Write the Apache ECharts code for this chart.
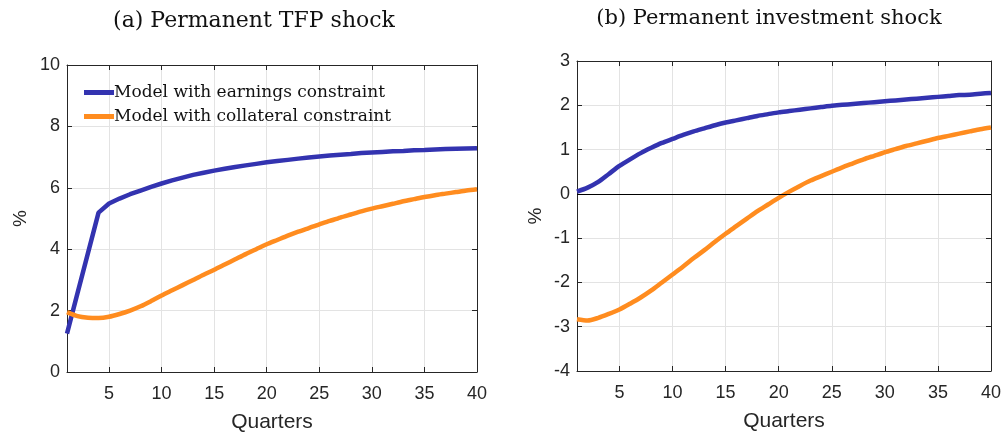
<!DOCTYPE html>
<html>
<head>
<meta charset="utf-8">
<script src="https://cdn.jsdelivr.net/npm/echarts@6/dist/echarts.min.js"></script>
<style>
  html, body { margin: 0; padding: 0; background: #fff; }
  #chart { width: 1006px; height: 434px; }
</style>
</head>
<body>
<div id="chart"></div>
<script>
var quarters = [];
for (var q = 1; q <= 40; q++) quarters.push(q);

// (a) permanent TFP shock
var tfpEarnings = [1.25, 2.57, 3.88, 5.19, 5.49, 5.65, 5.79, 5.91, 6.03, 6.14,
  6.24, 6.33, 6.42, 6.49, 6.56, 6.62, 6.68, 6.73, 6.78, 6.83,
  6.87, 6.91, 6.95, 6.99, 7.02, 7.05, 7.08, 7.10, 7.13, 7.15,
  7.17, 7.19, 7.20, 7.22, 7.23, 7.25, 7.26, 7.27, 7.28, 7.29];
var tfpCollateral = [1.95, 1.82, 1.77, 1.76, 1.80, 1.89, 2.00, 2.14, 2.31, 2.49,
  2.66, 2.83, 3.00, 3.17, 3.33, 3.50, 3.67, 3.84, 4.00, 4.16,
  4.30, 4.44, 4.57, 4.69, 4.81, 4.92, 5.03, 5.13, 5.23, 5.32,
  5.40, 5.48, 5.56, 5.63, 5.70, 5.76, 5.81, 5.86, 5.91, 5.95];

// (b) permanent investment shock
var invEarnings = [0.05, 0.14, 0.27, 0.45, 0.63, 0.78, 0.92, 1.04, 1.15, 1.24,
  1.33, 1.41, 1.48, 1.55, 1.61, 1.66, 1.71, 1.76, 1.80, 1.84,
  1.87, 1.90, 1.93, 1.96, 1.99, 2.01, 2.03, 2.05, 2.07, 2.09,
  2.11, 2.13, 2.15, 2.17, 2.19, 2.21, 2.23, 2.24, 2.26, 2.28];
var invCollateral = [-2.83, -2.86, -2.80, -2.71, -2.61, -2.48, -2.34, -2.18, -2.00, -1.82,
  -1.64, -1.45, -1.27, -1.08, -0.90, -0.73, -0.56, -0.39, -0.24, -0.09,
  0.05, 0.18, 0.30, 0.40, 0.50, 0.60, 0.69, 0.78, 0.86, 0.94,
  1.01, 1.08, 1.14, 1.20, 1.26, 1.31, 1.36, 1.41, 1.46, 1.50];

var seriesNames = ['Model with earnings constraint', 'Model with collateral constraint'];
var titles = ['(a) Permanent TFP shock', '(b) Permanent investment shock'];
var xTicks = [5, 10, 15, 20, 25, 30, 35, 40];

var BLUE = '#3333b0';
var ORANGE = '#ff8c1f';
var AXIS = '#262626';
var GRID = '#e3e3e3';

function pairs(vals) {
  return vals.map(function (v, i) { return [quarters[i], v]; });
}

// fixed plot boxes, no auto shrinking for labels
var grids = [
  { left: 67, top: 65, width: 410, height: 307, outerBoundsMode: 'none', containLabel: false },
  { left: 577, top: 61, width: 414, height: 310, outerBoundsMode: 'none', containLabel: false }
];

function xAxisFor(idx, pos) {
  var main = pos === 'bottom';
  return {
    type: 'value', gridIndex: idx, position: pos,
    min: 1, max: 40, minInterval: 5, maxInterval: 5,
    name: main ? 'Quarters' : '',
    nameLocation: 'middle', nameGap: 40,
    nameTextStyle: { fontFamily: 'Liberation Sans', fontSize: 21, color: AXIS },
    axisLine: { show: true, onZero: false, lineStyle: { color: AXIS, width: 1 } },
    axisTick: { show: true, inside: true, length: 5, customValues: xTicks, lineStyle: { color: AXIS } },
    axisLabel: {
      show: main, customValues: xTicks, margin: 13,
      fontFamily: 'Liberation Sans', fontSize: 18, color: AXIS
    },
    splitLine: { show: main, customValues: xTicks, lineStyle: { color: GRID, width: 1 } }
  };
}

function yAxisFor(idx, pos, min, max, gap) {
  var main = pos === 'left';
  return {
    type: 'value', gridIndex: idx, position: pos,
    min: min, max: max, interval: max - min > 8 ? 2 : 1,
    name: main ? '%' : '',
    nameLocation: 'middle', nameRotate: 90, nameGap: gap,
    nameTextStyle: { fontFamily: 'Liberation Sans', fontSize: 19, color: AXIS },
    axisLine: { show: true, onZero: false, lineStyle: { color: AXIS, width: 1 } },
    axisTick: { show: true, inside: true, length: 5, lineStyle: { color: AXIS } },
    axisLabel: {
      show: main, margin: 7,
      fontFamily: 'Liberation Sans', fontSize: 18, color: AXIS
    },
    splitLine: { show: main, lineStyle: { color: GRID, width: 1 } }
  };
}

function lineSeries(name, vals, color, xi, yi, extra) {
  var s = {
    name: name, type: 'line',
    xAxisIndex: xi, yAxisIndex: yi,
    data: pairs(vals),
    showSymbol: false, symbol: 'none',
    smooth: 0.25,
    lineStyle: { color: color, width: 4.5 },
    itemStyle: { color: color },
    animation: false
  };
  return Object.assign(s, extra || {});
}

var chart = echarts.init(document.getElementById('chart'), null, { renderer: 'canvas' });

chart.setOption({
  backgroundColor: '#fff',
  animation: false,
  title: [
    { text: titles[0], left: 249, top: 5, textAlign: 'center',
      textStyle: { fontFamily: 'DejaVu Serif', fontWeight: 'normal', fontSize: 22, color: '#111' } },
    { text: titles[1], left: 764, top: 3, textAlign: 'center',
      textStyle: { fontFamily: 'DejaVu Serif', fontWeight: 'normal', fontSize: 21, color: '#111' } }
  ],
  legend: {
    data: seriesNames,
    orient: 'vertical',
    left: 79, top: 79,
    icon: 'rect', itemWidth: 30, itemHeight: 5, itemGap: 7,
    textStyle: { fontFamily: 'DejaVu Serif', fontSize: 17, color: '#111', padding: [0, 0, 0, -5] }
  },
  grid: grids,
  xAxis: [
    xAxisFor(0, 'bottom'), xAxisFor(0, 'top'),
    xAxisFor(1, 'bottom'), xAxisFor(1, 'top')
  ],
  yAxis: [
    yAxisFor(0, 'left', 0, 10, 37), yAxisFor(0, 'right', 0, 10, 0),
    yAxisFor(1, 'left', -4, 3, 32), yAxisFor(1, 'right', -4, 3, 0)
  ],
  series: [
    lineSeries(seriesNames[0], tfpEarnings, BLUE, 0, 0, { smooth: false }),
    lineSeries(seriesNames[1], tfpCollateral, ORANGE, 0, 0),
    lineSeries(seriesNames[0], invEarnings, BLUE, 2, 2, {
      markLine: {
        silent: true, symbol: 'none', animation: false,
        label: { show: false },
        lineStyle: { color: '#000', width: 1, type: 'solid' },
        data: [{ yAxis: 0 }]
      },
      z: 3
    }),
    lineSeries(seriesNames[1], invCollateral, ORANGE, 2, 2)
  ]
});
</script>
</body>
</html>
